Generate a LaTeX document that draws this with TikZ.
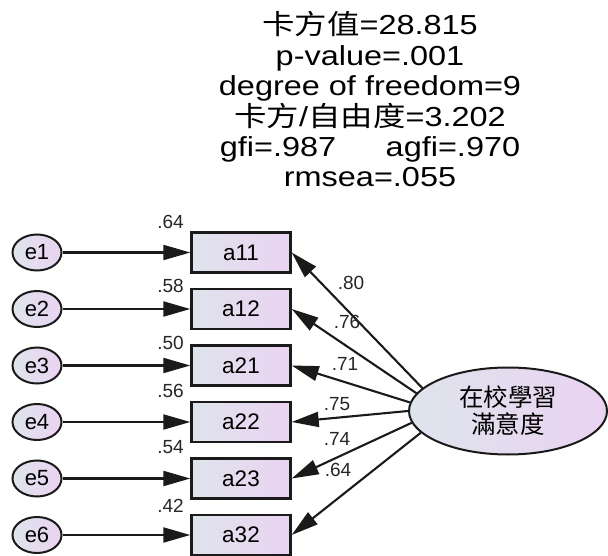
\documentclass[tikz,border=0pt]{standalone}
\usepackage{fontspec}
\setmainfont{Liberation Sans}
\newfontfamily\cjk{Noto Sans CJK TC}
\usetikzlibrary{arrows.meta,shapes.geometric}
\definecolor{fillL}{HTML}{DEE4EC}
\definecolor{fillR}{HTML}{EAD3F2}
\definecolor{edgec}{HTML}{1A1A1A}
\tikzset{
  obs/.style={draw=edgec, line width=2.4pt, left color=fillL, right color=fillR,
    minimum width=99pt, minimum height=40pt, inner sep=0pt,
    font=\fontsize{22.5}{24}\selectfont},
  err/.style={ellipse, draw=edgec, line width=2pt, left color=fillL, right color=fillR,
    minimum width=49pt, minimum height=36pt, inner sep=0pt,
    font=\fontsize{22}{24}\selectfont},
  lat/.style={ellipse, draw=edgec, line width=2pt, left color=fillL, right color=fillR,
    minimum width=198pt, minimum height=87pt, inner sep=0pt, align=center,
    font=\cjk\fontsize{24.5}{27}\selectfont},
  arr/.style={draw=edgec, line width=2.1pt, -{Triangle[length=27pt,width=15pt]}},
  coef/.style={font=\fontsize{19}{20}\selectfont, inner sep=0pt, text=black!85},
  ttl/.style={font=\fontsize{27.5}{30}\selectfont, inner sep=0pt, anchor=base},
}
\begin{document}
\begin{tikzpicture}[x=1pt, y=-1pt]
\useasboundingbox (0,0) rectangle (608,556);
% title
\node[ttl] (t1) at (370,35) {\scalebox{1.18}[1]{{\cjk 卡方值}=28.815}};
\node[ttl] (t2) at (370,65.5) {\scalebox{1.18}[1]{p-value=.001}};
\node[ttl] (t3) at (370,96) {\scalebox{1.18}[1]{degree of freedom=9}};
\node[ttl] (t4) at (370,126.5) {\scalebox{1.18}[1]{{\cjk 卡方}/{\cjk 自由度}=3.202}};
\node[ttl] (t5) at (370,157) {\scalebox{1.18}[1]{gfi=.987\hspace{42pt}agfi=.970}};
\node[ttl] (t6) at (370,187) {\scalebox{1.18}[1]{rmsea=.055}};
% observed
\node[obs] (a11) at (241,252.5) {a11};
\node[obs] (a12) at (241,309) {a12};
\node[obs] (a21) at (241,365.5) {a21};
\node[obs] (a22) at (241,422) {a22};
\node[obs] (a23) at (241,478.5) {a23};
\node[obs] (a32) at (241,535) {a32};
% errors
\node[err] (e1) at (37,252.5) {e1};
\node[err] (e2) at (37,309) {e2};
\node[err] (e3) at (37,365.5) {e3};
\node[err] (e4) at (37,422) {e4};
\node[err] (e5) at (37,478.5) {e5};
\node[err] (e6) at (37,535) {e6};
% latent
\node[lat] (lat) at (508,411) {在校學習\\滿意度};
% error arrows
\draw[arr] (e1) -- (a11);
\draw[arr] (e2) -- (a12);
\draw[arr] (e3) -- (a21);
\draw[arr] (e4) -- (a22);
\draw[arr] (e5) -- (a23);
\draw[arr] (e6) -- (a32);
% loadings
\draw[arr] (lat.165) -- (a11.east);
\draw[arr] (lat.169) -- (a12.east);
\draw[arr] (lat.175) -- (a21.east);
\draw[arr] (lat.180) -- (a22.east);
\draw[arr] (lat.187) -- (a23.east);
\draw[arr] (lat.194) -- (a32.east);
% R2
\node[coef] (r1) at (170.5,222) {.64};
\node[coef] (r2) at (170.5,286) {.58};
\node[coef] (r3) at (170.5,342.5) {.50};
\node[coef] (r4) at (170.5,390.5) {.56};
\node[coef] (r5) at (170.5,447.5) {.54};
\node[coef] (r6) at (170.5,506) {.42};
% loading values
\node[coef] (l1) at (351,283) {.80};
\node[coef] (l2) at (347,322) {.76};
\node[coef] (l3) at (345,364) {.71};
\node[coef] (l4) at (337,404) {.75};
\node[coef] (l5) at (337,439) {.74};
\node[coef] (l6) at (338,470) {.64};
\end{tikzpicture}
\end{document}
